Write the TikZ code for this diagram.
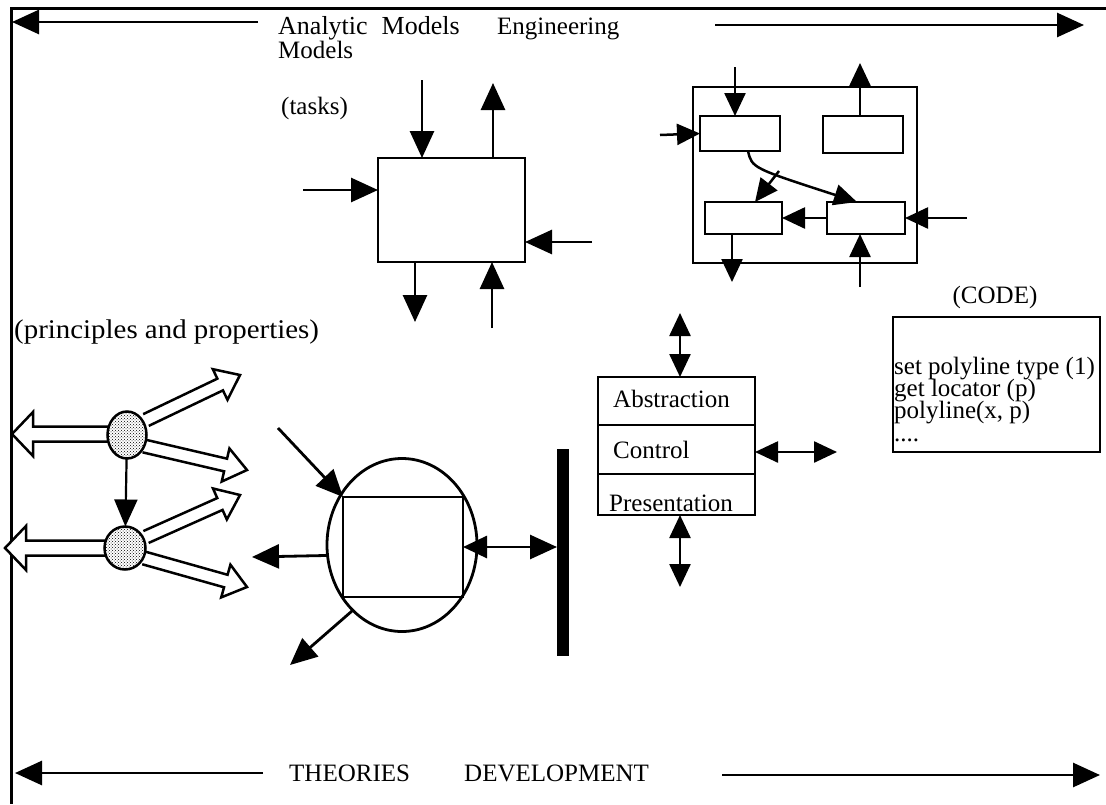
\documentclass[tikz,border=0pt]{standalone}
\usepackage{fontspec}
\setmainfont{Liberation Serif}
\usetikzlibrary{arrows.meta,patterns,calc,shapes.geometric}
\newcommand\hollowarr[5]{% start, tip, half shaft, half head, head length
  \draw[line width=2.5pt, line join=miter, fill=white]
    let \p1=($(#2)-(#1)$), \n1={atan2(\y1,\x1)}, \n2={veclen(\x1,\y1)} in
    ($(#1)+(\n1+90:#3)$) -- ++(\n1:\n2-#5) -- ++(\n1+90:#4-#3) -- (#2)
    -- ($(#1)+(\n1:\n2-#5)+(\n1-90:#4)$) -- ++(\n1+90:#4-#3) -- ($(#1)+(\n1-90:#3)$);
}
\begin{document}
\begin{tikzpicture}[x=1pt,y=1pt,
  every node/.style={font=\fontsize{25}{21}\selectfont},
  txt/.style={inner sep=0pt, anchor=base west},
  frame/.style={line width=3pt},
  arr/.style={line width=2.8pt,-{Triangle[length=27pt,width=24pt]}},
  marr/.style={line width=2.5pt,-{Triangle[length=23pt,width=21pt]}},
  darr/.style={line width=2.5pt,{Triangle[length=23pt,width=21pt]}-{Triangle[length=23pt,width=21pt]}},
  box/.style={draw, line width=2.8pt, inner sep=0pt, outer sep=0pt},
  sbox/.style={draw, line width=2.5pt, inner sep=0pt, outer sep=0pt},
  dotc/.style={draw, line width=2.5pt, ellipse, fill=white, inner sep=0pt, outer sep=0pt},
]
\fill[white] (0,0) rectangle (1106,-804);
\useasboundingbox (0,0) rectangle (1106,-804);
% frame
\draw[frame] (1106,-8) -- (11,-8) -- (11,-804);
% top and bottom arrows
\coordinate (tl1) at (258,-22); \coordinate (tl2) at (12,-22);
\coordinate (tr1) at (715,-25); \coordinate (tr2) at (1084,-25);
\coordinate (bl1) at (263,-773); \coordinate (bl2) at (15,-773);
\coordinate (br1) at (722,-775); \coordinate (br2) at (1100,-775);
\draw[arr] (tl1) -- (tl2);
\draw[arr] (tr1) -- (tr2);
\draw[arr] (bl1) -- (bl2);
\draw[arr] (br1) -- (br2);
% texts
\node[txt, font=\fontsize{26}{21}\selectfont] (am) at (278,-34) {Analytic\hspace{14pt}Models};
\node[txt] (eng) at (497,-34) {Engineering};
\node[txt] (mod) at (278,-58) {Models};
\node[txt] (tasks) at (281,-114) {(tasks)};
\node[inner sep=0pt, anchor=base] (code) at (995,-303) {(CODE)};
\node[txt, font=\fontsize{27}{21}\selectfont, transform shape, xscale=1.07] (pp) at (14,-338) {(principles and properties)};
\node[txt] (th) at (289,-781) {THEORIES};
\node[txt] (dev) at (464,-781) {DEVELOPMENT};
% task box
\node[box, minimum width=147pt, minimum height=104pt] (task) at (451.5,-210) {};
\coordinate (t1) at (422,-80);
\coordinate (t2) at (493,-83);
\coordinate (t3) at (303,-190);
\coordinate (t4) at (592,-242);
\coordinate (t5) at (415,-322);
\coordinate (t6) at (492,-328);
\draw[arr] (t1) -- (t1 |- task.north);
\draw[arr] (t2 |- task.north) -- (t2);
\draw[arr] (t3) -- (t3 -| task.west);
\draw[arr] (t4) -- (t4 -| task.east);
\draw[arr] (t5 |- task.south) -- (t5);
\draw[arr] (t6) -- (t6 |- task.south);
% engineering box
\node[sbox, minimum width=224pt, minimum height=176pt] (engb) at (805,-175) {};
\node[sbox, minimum width=80pt, minimum height=35pt] (ea) at (740,-133.5) {};
\node[sbox, minimum width=80pt, minimum height=37pt] (eb) at (863,-134.5) {};
\node[sbox, minimum width=77pt, minimum height=32pt] (ec) at (743.5,-218) {};
\node[sbox, minimum width=78pt, minimum height=32pt] (ed) at (866,-218) {};
\coordinate (e1) at (735,-67);
\coordinate (e2) at (860,-63);
\coordinate (e3) at (660,-135);
\coordinate (e4) at (967,-218);
\coordinate (e5) at (860,-287);
\coordinate (e6) at (732,-282);
\coordinate (cs) at (748,-151);
\coordinate (ce) at (857,-202);
\coordinate (br) at (779,-171);
\coordinate (bt) at (755,-202);
\draw[marr] (e1) -- (e1 |- ea.north);
\draw[marr] (e2 |- eb.north) -- (e2);
\draw[marr] (e3) -- (ea.west);
\draw[marr] (e4) -- (ed.east);
\draw[marr] (e5) -- (e5 |- ed.south);
\draw[marr] (e6 |- ec.south) -- (e6);
\draw[marr] (ed.west) -- (ec.east);
\draw[marr] (cs) .. controls (752,-168) .. (ce);
\draw[marr] (br) -- (bt);
% code box
\node[box, minimum width=207pt, minimum height=135pt] (codeb) at (996.5,-384.5) {};
\node[txt] (l1) at (894,-374) {set polyline type (1)};
\node[txt] (l2) at (894,-396) {get locator (p)};
\node[txt] (l3) at (894,-418) {polyline(x, p)};
\node[txt] (l4) at (894,-441) {....};
% left circles and hollow arrows
\coordinate (h1s) at (110,-434); \coordinate (h1t) at (12,-434);
\coordinate (h2s) at (146,-420); \coordinate (h2t) at (240,-375);
\coordinate (h3s) at (144,-446); \coordinate (h3t) at (247,-470);
\coordinate (h4s) at (108,-548); \coordinate (h4t) at (5,-548);
\coordinate (h5s) at (146,-537); \coordinate (h5t) at (240,-495);
\coordinate (h6s) at (144,-558); \coordinate (h6t) at (247,-587);
\hollowarr{h1s}{h1t}{7.5}{22}{21}
\hollowarr{h2s}{h2t}{6.5}{17}{22}
\hollowarr{h3s}{h3t}{6.5}{17}{22}
\hollowarr{h4s}{h4t}{7.5}{22}{21}
\hollowarr{h5s}{h5t}{6.5}{17}{22}
\hollowarr{h6s}{h6t}{6.5}{17}{22}
\node[dotc, minimum width=39pt, minimum height=47pt] (c1) at (127,-435) {};
\node[dotc, minimum width=41pt, minimum height=43pt] (c2) at (125,-548) {};
\fill[pattern=crosshatch dots, pattern color=black] (c1.center) ellipse [x radius=18, y radius=22];
\fill[pattern=crosshatch dots, pattern color=black] (c2.center) ellipse [x radius=19, y radius=20];
\draw[line width=2.2pt,-{Triangle[length=27pt,width=23pt]}] (c1) -- (c2);
% ellipse with square
\node[draw, ellipse, line width=2.8pt, minimum width=150pt, minimum height=173pt, inner sep=0pt, outer sep=0pt] (ell) at (402,-545) {};
\node[box, minimum width=120pt, minimum height=100pt] (sq) at (403,-547) {};
\node[fill=black, minimum width=12pt, minimum height=207pt, inner sep=0pt, outer sep=0pt] (bar) at (563,-552) {};
\coordinate (g1) at (278,-428);
\coordinate (g2) at (252,-557);
\coordinate (g3) at (290,-665);
\draw[arr] (g1) -- (sq.north west);
\draw[arr] (ell.188) -- (g2);
\draw[arr] (ell.233) -- (g3);
\draw[line width=2.8pt,{Triangle[length=24pt,width=22pt]}-{Triangle[length=27pt,width=24pt]}] (sq.east) -- (bar.west |- sq.east);
% ACP stack
\node[box, minimum width=157pt, minimum height=48pt] (abs) at (676.5,-401) {};
\node[box, minimum width=157pt, minimum height=49pt] (ctl) at (676.5,-449.5) {};
\node[box, minimum width=157pt, minimum height=41pt] (pres) at (676.5,-494.5) {};
\node[txt] (abst) at (613,-407) {Abstraction};
\node[txt] (ctlt) at (613,-458) {Control};
\node[txt] (prest) at (609,-511) {Presentation};
\coordinate (p1) at (680,-313);
\coordinate (p2) at (837,-452);
\coordinate (p3) at (680,-587);
\draw[darr] (p1) -- (p1 |- abs.north);
\draw[darr] (ctl.east |- p2) -- (p2);
\draw[darr] (p3 |- pres.south) -- (p3);
\end{tikzpicture}
\end{document}
